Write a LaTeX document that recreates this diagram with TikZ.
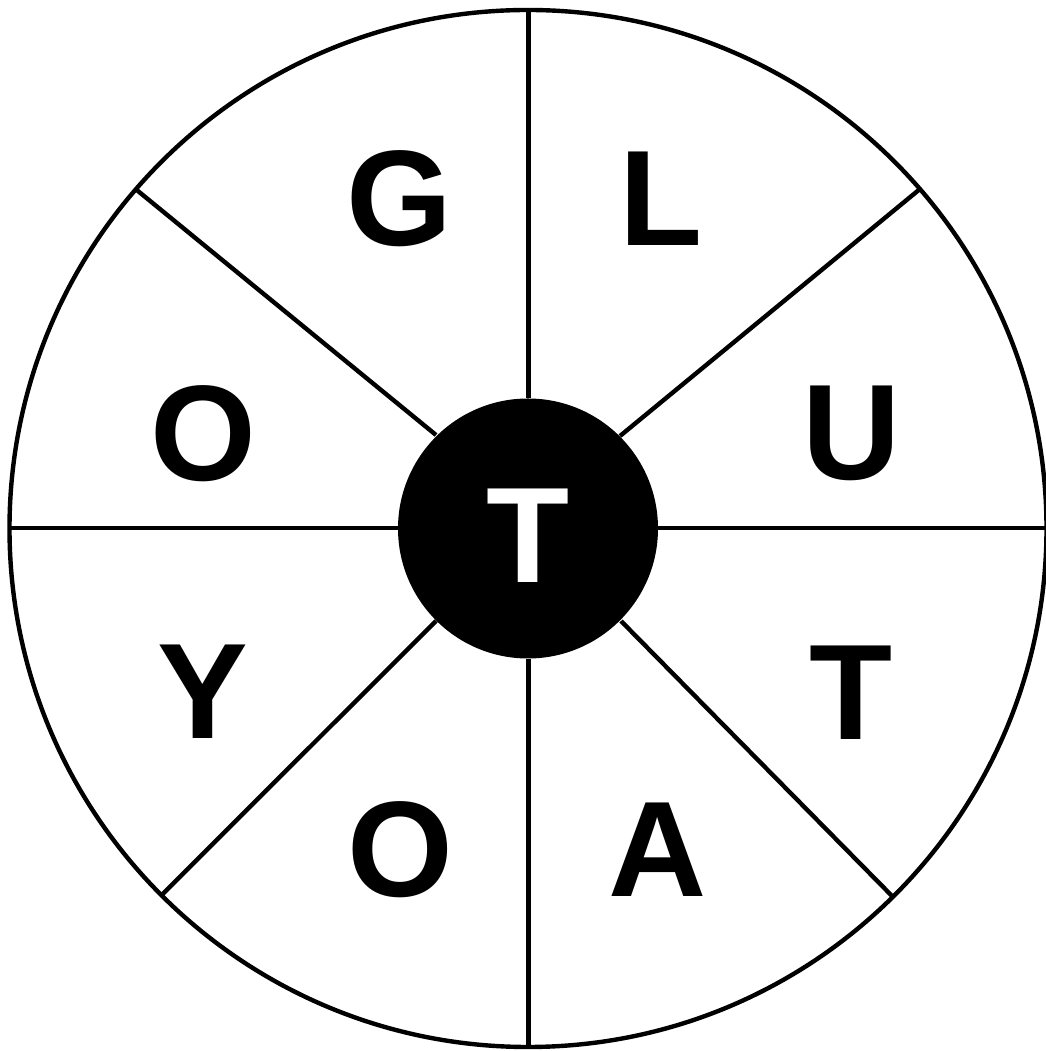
\documentclass[tikz,border=0pt]{standalone}
\usepackage{fontspec}
\setmainfont{Liberation Sans}
\begin{document}
\begin{tikzpicture}[x=1pt,y=1pt,
  rim/.style={draw=black,line width=4.4pt},
  spoke/.style={draw=black,line width=4.4pt},
  letter/.style={anchor=base,inner sep=0pt,font=\fontsize{136}{136}\selectfont\bfseries}]
\useasboundingbox (0,0) rectangle (1045,1051);
% image y -> tikz y = 1051 - y
\coordinate (c) at (528,522.5);
\draw[rim, fill=white] (c) circle (518.5);
% inner endpoints
\coordinate (iN) at (528.5,653);
\coordinate (iS) at (528.5,392);
\coordinate (iW) at (398,523);
\coordinate (iE) at (658,523);
\coordinate (iNW) at (436,616);
\coordinate (iNE) at (620,615);
\coordinate (iSW) at (436,430);
\coordinate (iSE) at (621,430);
% outer endpoints
\coordinate (oN) at (528.5,1043);
\coordinate (oS) at (528.5,4);
\coordinate (oW) at (9.5,523);
\coordinate (oE) at (1046.5,523);
\coordinate (oNW) at (136.7,861);
\coordinate (oNE) at (920,862);
\coordinate (oSW) at (161.7,156);
\coordinate (oSE) at (893,154);
\foreach \a in {N,S,W,E,NW,NE,SW,SE}{\draw[spoke] (i\a) -- (o\a);}
\node[circle,fill=black,minimum size=260pt,inner sep=0pt] (hub) at (c) {};
\node[letter,text=white] (tc) at (528,468) {T};
\node[letter] (g) at (399,805) {G};
\node[letter] (l) at (661.5,805) {L};
\node[letter] (ow) at (203.5,570) {O};
\node[letter] (u) at (852,571) {U};
\node[letter] (y) at (202.5,312) {Y};
\node[letter] (te) at (851,311) {T};
\node[letter] (os) at (400,154) {O};
\node[letter] (a) at (658,154) {A};
\end{tikzpicture}
\end{document}
